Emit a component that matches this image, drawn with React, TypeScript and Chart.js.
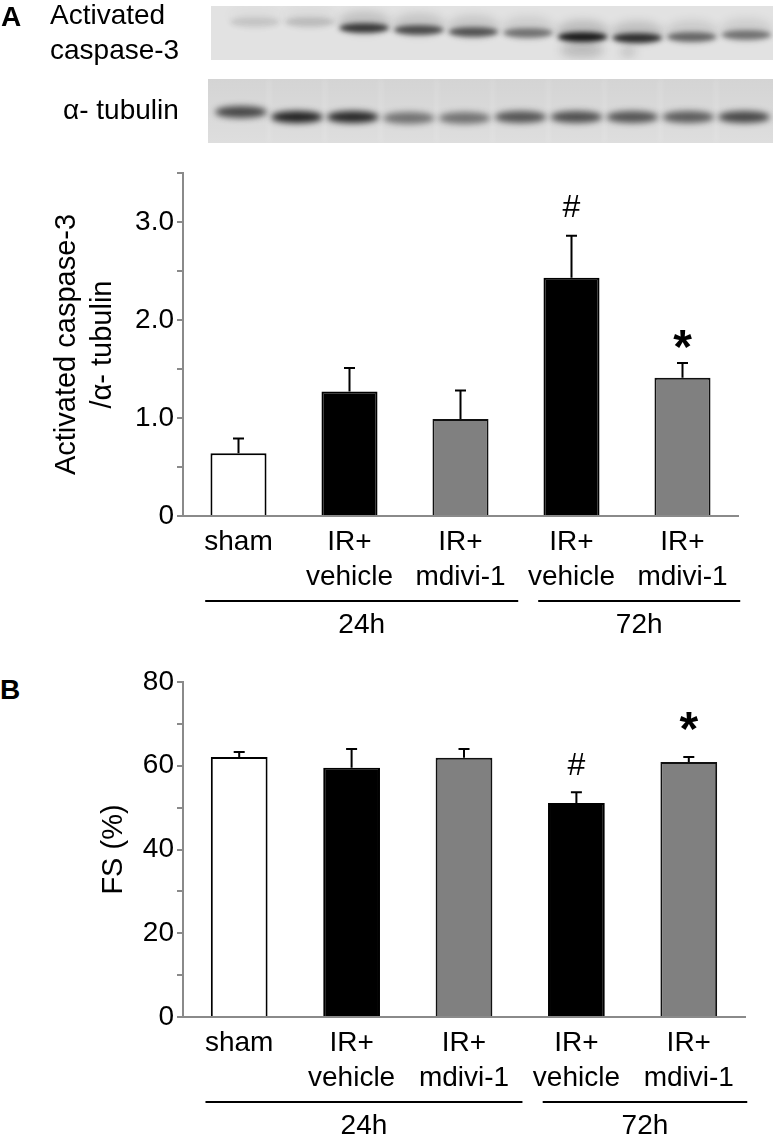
import React, { useEffect, useRef } from 'react';
import { Chart, registerables } from 'chart.js';

Chart.register(...registerables);

const FONT = "'Liberation Sans', Arial, Helvetica, sans-serif";
const AXIS_GRAY = '#8a8a8a';

// ---------- data ----------
const categories: (string | string[])[] = [
  'sham',
  ['IR+', 'vehicle'],
  ['IR+', 'mdivi-1'],
  ['IR+', 'vehicle'],
  ['IR+', 'mdivi-1'],
];
const groupLabels = ['24h', '72h'];
const groupFirst = [0, 3];
const groupLast = [2, 4];
const barColors = ['#ffffff', '#000000', '#808080', '#000000', '#808080'];
const barBorders = ['#000000', '#000000', '#111111', '#000000', '#111111'];

const caspaseMean = [0.64, 1.27, 0.99, 2.43, 1.41];
const caspaseSem = [0.15, 0.24, 0.29, 0.43, 0.15];
const caspaseMarks = ['', '', '', '#', '*'];
const caspaseMax = 3.5;
const caspaseStep = 0.5;
const caspaseLabelStep = 1;
const caspaseTitle = ['Activated caspase-3', '/\u03b1- tubulin'];

const fsMean = [62.1, 59.5, 61.9, 51.1, 60.9];
const fsSem = [1.2, 4.5, 2.1, 2.6, 1.2];
const fsMarks = ['', '', '', '#', '*'];
const fsMax = 80;
const fsStep = 10;
const fsLabelStep = 20;
const fsTitle = 'FS (%)';

// western blot band darkness per lane (10 lanes)
const caspaseBand = [0.12, 0.16, 0.8, 0.7, 0.66, 0.5, 0.97, 0.86, 0.56, 0.5];
const tubulinBand = [0.74, 0.93, 0.9, 0.52, 0.52, 0.68, 0.7, 0.68, 0.64, 0.74];

// ---------- plugins ----------
const errorBarPlugin = {
  id: 'errorBars',
  afterDatasetsDraw(chart: any, _args: any, opts: any) {
    const { ctx } = chart;
    const meta = chart.getDatasetMeta(0);
    const y = chart.scales.y;
    const data = chart.data.datasets[0].data as number[];
    ctx.save();
    ctx.strokeStyle = '#000';
    ctx.lineWidth = 2;
    meta.data.forEach((bar: any, i: number) => {
      const v = data[i];
      const y0 = y.getPixelForValue(v);
      const y1 = y.getPixelForValue(v + opts.errors[i]);
      ctx.beginPath();
      ctx.moveTo(bar.x, y0);
      ctx.lineTo(bar.x, y1);
      ctx.moveTo(bar.x - 5.5, y1);
      ctx.lineTo(bar.x + 5.5, y1);
      ctx.stroke();
      const mark = opts.marks[i];
      if (mark) {
        ctx.fillStyle = '#000';
        ctx.font = mark === '*' ? `bold 48px ${FONT}` : `normal 32px ${FONT}`;
        ctx.textAlign = 'center';
        ctx.textBaseline = 'alphabetic';
        const m = ctx.measureText(mark);
        const off = mark === '*' ? opts.starOffset : opts.hashOffset;
        const centerY = y1 - off;
        const baseY = centerY + (m.actualBoundingBoxAscent - m.actualBoundingBoxDescent) / 2;
        ctx.fillText(mark, bar.x, baseY);
      }
    });
    ctx.restore();
  },
};

const groupPlugin = {
  id: 'groups',
  afterDraw(chart: any) {
    const { ctx } = chart;
    const x = chart.scales.x;
    const zero = x.top;
    const w = x.getPixelForValue(1) - x.getPixelForValue(0);
    ctx.save();
    ctx.fillStyle = '#000';
    ctx.font = `28px ${FONT}`;
    ctx.textAlign = 'center';
    ctx.textBaseline = 'alphabetic';
    groupLabels.forEach((label, g) => {
      const x0 = x.getPixelForValue(groupFirst[g]) - 0.3 * w;
      const x1 = x.getPixelForValue(groupLast[g]) + 0.52 * w;
      ctx.fillRect(x0, zero + 84, x1 - x0, 2);
      ctx.fillText(label, (x0 + x1) / 2, zero + 117);
    });
    ctx.restore();
  },
};

type PanelProps = {
  top: number;
  height: number;
  padTop: number;
  padRight: number;
  axisHeight: number;
  means: number[];
  errors: number[];
  marks: string[];
  max: number;
  step: number;
  labelStep: number;
  decimals: boolean;
  title: string | string[];
  titlePad: number;
  hashOffset: number;
  starOffset: number;
};

function BarPanel(p: PanelProps) {
  const ref = useRef<HTMLCanvasElement | null>(null);
  useEffect(() => {
    if (!ref.current) return;
    Chart.defaults.font.family = FONT;
    Chart.defaults.color = '#000';
    const chart = new Chart(ref.current, {
      type: 'bar',
      data: {
        labels: categories as any,
        datasets: [
          {
            data: p.means,
            backgroundColor: barColors,
            borderColor: barBorders,
            borderWidth: 2,
            barPercentage: 0.505,
            categoryPercentage: 1,
          },
        ],
      },
      options: {
        animation: false,
        responsive: false,
        maintainAspectRatio: false,
        layout: { padding: { top: p.padTop, right: p.padRight, left: 0, bottom: 0 } },
        plugins: {
          legend: { display: false },
          tooltip: { enabled: false },
          errorBars: { errors: p.errors, marks: p.marks, hashOffset: p.hashOffset, starOffset: p.starOffset },
        } as any,
        scales: {
          x: {
            border: { color: AXIS_GRAY, width: 2 },
            grid: { display: false, drawTicks: false },
            ticks: {
              padding: 9,
              color: '#000',
              font: { size: 28, lineHeight: 1.25, family: FONT },
              maxRotation: 0,
              minRotation: 0,
              autoSkip: false,
            },
            afterFit: (s: any) => {
              s.height = p.axisHeight;
            },
          },
          y: {
            min: 0,
            max: p.max,
            border: { color: AXIS_GRAY, width: 2 },
            grid: { drawOnChartArea: false, drawTicks: true, tickLength: 6, color: AXIS_GRAY, lineWidth: 2 },
            ticks: {
              stepSize: p.step,
              autoSkip: false,
              padding: 3,
              color: '#000',
              font: { size: 28, family: FONT },
              callback: (v: any) => {
                const n = Number(v);
                const r = n / p.labelStep;
                if (Math.abs(r - Math.round(r)) > 1e-6) return '';
                if (n === 0) return '0';
                return p.decimals ? n.toFixed(1) : String(Math.round(n));
              },
            },
            title: {
              display: true,
              text: p.title as any,
              color: '#000',
              font: { size: 29, lineHeight: 1.24, family: FONT },
              padding: { top: p.titlePad, bottom: 0 },
            },
            afterFit: (s: any) => {
              s.width = 183;
            },
          },
        },
      },
      plugins: [errorBarPlugin, groupPlugin],
    });
    return () => chart.destroy();
  }, []);
  return (
    <canvas
      ref={ref}
      width={773}
      height={p.height}
      style={{ position: 'absolute', left: 0, top: p.top, width: 773, height: p.height }}
    />
  );
}

function Blot() {
  const ref = useRef<HTMLCanvasElement | null>(null);
  useEffect(() => {
    const c = ref.current;
    if (!c) return;
    const ctx = c.getContext('2d');
    if (!ctx) return;
    ctx.clearRect(0, 0, 773, 150);

    // top panel: activated caspase-3
    const tx = 211, ty = 6, tw = 562, th = 54;
    ctx.fillStyle = '#e2e2e2';
    ctx.fillRect(tx, ty, tw, th);
    ctx.save();
    ctx.beginPath();
    ctx.rect(tx, ty, tw, th);
    ctx.clip();
    const topY = [22, 22, 28, 30, 32, 33, 37, 38, 37, 35];
    ctx.filter = 'blur(4px)';
    caspaseBand.forEach((a, i) => {
      const cx = 255 + i * 54.6;
      ctx.fillStyle = `rgba(30,30,30,${a * 0.2})`;
      ctx.beginPath();
      ctx.ellipse(cx, topY[i] - 6, 26, 11, 0, 0, Math.PI * 2);
      ctx.fill();
    });
    ctx.filter = 'blur(2.5px)';
    caspaseBand.forEach((a, i) => {
      const cx = 255 + i * 54.6;
      ctx.fillStyle = `rgba(20,20,20,${a})`;
      ctx.beginPath();
      ctx.ellipse(cx, topY[i], 25, 4.8, 0, 0, Math.PI * 2);
      ctx.fill();
    });
    ctx.filter = 'blur(5px)';
    ctx.fillStyle = 'rgba(40,40,40,0.2)';
    ctx.beginPath();
    ctx.ellipse(582, 50, 22, 8, 0, 0, Math.PI * 2);
    ctx.fill();
    ctx.fillStyle = 'rgba(40,40,40,0.22)';
    ctx.beginPath();
    ctx.ellipse(628, 52, 8, 4, 0, 0, Math.PI * 2);
    ctx.fill();
    ctx.restore();

    // bottom panel: alpha-tubulin
    const bx = 208, by = 79, bw = 565, bh = 64;
    const grad = ctx.createLinearGradient(0, by, 0, by + bh);
    grad.addColorStop(0, '#d4d4d4');
    grad.addColorStop(1, '#dedede');
    ctx.fillStyle = grad;
    ctx.fillRect(bx, by, bw, bh);
    ctx.save();
    ctx.beginPath();
    ctx.rect(bx, by, bw, bh);
    ctx.clip();
    ctx.filter = 'blur(2px)';
    for (let i = 1; i < 10; i++) {
      const sx = 241 + (i - 0.5) * 55.9;
      ctx.fillStyle = 'rgba(255,255,255,0.14)';
      ctx.fillRect(sx - 2, by, 4, bh);
    }
    const botY = [112, 117, 117, 118, 118, 117, 117, 117, 117, 117];
    ctx.filter = 'blur(3px)';
    tubulinBand.forEach((a, i) => {
      const cx = 241 + i * 55.9;
      ctx.fillStyle = `rgba(20,20,20,${a})`;
      ctx.beginPath();
      ctx.ellipse(cx, botY[i], 26, 6, 0, 0, Math.PI * 2);
      ctx.fill();
    });
    ctx.restore();
  }, []);
  return (
    <canvas
      ref={ref}
      width={773}
      height={150}
      style={{ position: 'absolute', left: 0, top: 0, width: 773, height: 150 }}
    />
  );
}

const txt = (extra: React.CSSProperties): React.CSSProperties => ({
  position: 'absolute',
  fontFamily: FONT,
  fontSize: 28,
  lineHeight: '28px',
  color: '#000',
  whiteSpace: 'nowrap',
  ...extra,
});

export default function App() {
  return (
    <div
      style={{
        position: 'absolute',
        left: 0,
        top: 0,
        width: 773,
        height: 1136,
        background: '#fff',
        overflow: 'hidden',
      }}
    >
      <Blot />
      <div style={txt({ left: 1, top: 3, fontSize: 28, lineHeight: '28px', fontWeight: 'bold' })}>A</div>
      <div style={txt({ left: 50, top: 1 })}>Activated</div>
      <div style={txt({ left: 50, top: 36 })}>caspase-3</div>
      <div style={txt({ left: 63, top: 96 })}>{'\u03b1- tubulin'}</div>
      <div style={txt({ left: 0, top: 676, fontSize: 28, lineHeight: '28px', fontWeight: 'bold' })}>B</div>
      <BarPanel
        top={150}
        height={500}
        padTop={23}
        padRight={35}
        axisHeight={134}
        means={caspaseMean}
        errors={caspaseSem}
        marks={caspaseMarks}
        max={caspaseMax}
        step={caspaseStep}
        labelStep={caspaseLabelStep}
        decimals={true}
        title={caspaseTitle}
        titlePad={49}
        hashOffset={30}
        starOffset={24}
      />
      <BarPanel
        top={650}
        height={486}
        padTop={32}
        padRight={28}
        axisHeight={119}
        means={fsMean}
        errors={fsSem}
        marks={fsMarks}
        max={fsMax}
        step={fsStep}
        labelStep={fsLabelStep}
        decimals={false}
        title={fsTitle}
        titlePad={96}
        hashOffset={28}
        starOffset={36}
      />
    </div>
  );
}
